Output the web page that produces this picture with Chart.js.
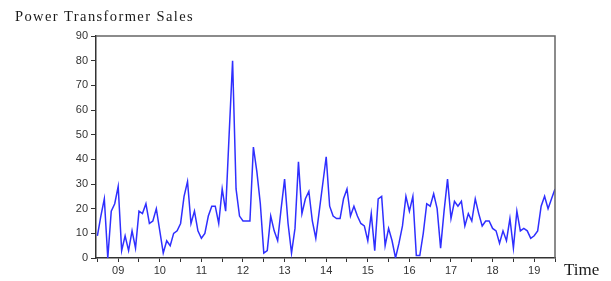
<!DOCTYPE html>
<html>
<head>
<meta charset="utf-8">
<script src="https://cdn.jsdelivr.net/npm/chart.js@4/dist/chart.umd.min.js"></script>
<style>
  html, body { margin:0; padding:0; background:#fff; }
  #wrap { width:611px; height:281px; position:relative; }
</style>
</head>
<body>
<div id="wrap"><canvas id="chart" width="611" height="281"></canvas></div>
<script>
// monthly sales, Jul 2008 .. Jul 2019
const sales = [9,17,24,0,19,22,29,3,9,3,11,4,19,18,22,14,15,20,11,2,7,5,10,11,14,25,31,14,19,11,
  8,10,17,21,21,14,28,19,50,80,28,17,15,15,15,45,35,22,2,3,17,11,7,20,32,14,2,12,39,18,
  24,27,15,8,19,30,41,21,17,16,16,24,28,17,21,17,14,13,7,18,3,24,25,5,12,7,0,6,13,25,
  19,25,1,1,10,22,21,26,20,4,19,32,16,23,21,23,13,18,15,24,18,13,15,15,12,11,6,11,7,16,
  4,19,11,12,11,8,9,11,21,25,20,24,28];
const yearLabels = ['09','10','11','12','13','14','15','16','17','18','19'];
const firstJan = 6;          // index of Jan 2009
const tickStep = 6;          // half-year tick marks
const yMax = 90, yStep = 10;

const points = sales.map((v,i) => ({x:i, y:v}));
const tickPos = [];
for (let k=0; k<sales.length; k+=tickStep) tickPos.push(k);

// frame + title text
const decor = {
  id:'decor',
  afterDraw(c){
    const {ctx, chartArea:a} = c;
    ctx.save();
    ctx.strokeStyle = '#666'; ctx.lineWidth = 1.5;
    ctx.beginPath();
    ctx.moveTo(a.left, a.top); ctx.lineTo(a.right, a.top); ctx.lineTo(a.right, a.bottom);
    ctx.stroke();
    ctx.fillStyle = '#1a1a1a';
    ctx.font = '14.5px "Liberation Serif", "Times New Roman", serif';
    ctx.letterSpacing = '1.4px';
    ctx.textBaseline = 'alphabetic';
    ctx.fillText('Power Transformer Sales', 15, 21);
    ctx.letterSpacing = '0px';
    ctx.font = '17px "Liberation Serif", "Times New Roman", serif';
    ctx.fillText('Time', 564, 275);
    ctx.restore();
  }
};

new Chart(document.getElementById('chart'), {
  type:'line',
  data:{datasets:[{data:points, borderColor:'#2f2fff', borderWidth:1.5,
    pointRadius:0, tension:0, fill:false}]},
  options:{
    responsive:false, animation:false,
    layout:{padding:{left:0, top:36, right:56, bottom:0}},
    plugins:{legend:{display:false}, tooltip:{enabled:false}},
    scales:{
      x:{type:'linear', min:-0.4, max:sales.length-1,
        afterBuildTicks: s => { s.ticks = tickPos.map(v=>({value:v})); },
        afterFit: s => { s.height = 23; },
        ticks:{autoSkip:false, maxRotation:0, padding:2, color:'#333',
          font:{family:'"Liberation Sans", Arial, sans-serif', size:11},
          callback:v => ((v-firstJan)%12===0 && v>=firstJan) ? yearLabels[(v-firstJan)/12] : ''},
        grid:{drawOnChartArea:false, drawTicks:true, tickLength:4, color:'#333'},
        border:{display:true, color:'#333', width:1.5}
      },
      y:{min:0, max:yMax,
        afterFit: s => { s.width = 96; },
        ticks:{stepSize:yStep, padding:3, color:'#333',
          font:{family:'"Liberation Sans", Arial, sans-serif', size:11}},
        grid:{drawOnChartArea:false, drawTicks:true, tickLength:5, color:'#333'},
        border:{display:true, color:'#333', width:1.5}
      }
    }
  },
  plugins:[decor]
});
</script>
</body>
</html>
